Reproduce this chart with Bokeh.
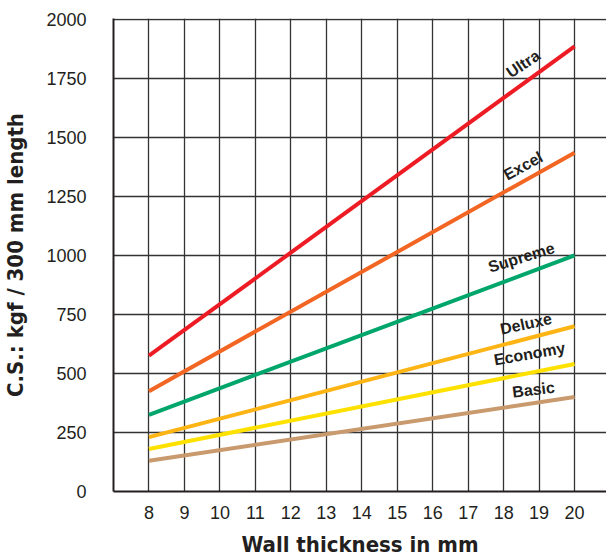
from bokeh.plotting import figure
from bokeh.models import Range1d, FixedTicker, ColumnDataSource
from bokeh.core.properties import value
from bokeh.embed import file_html
from bokeh.resources import INLINE
import math

# Data
wall_thickness = [8, 20]
series_names = ["Ultra", "Excel", "Supreme", "Deluxe", "Economy", "Basic"]
ultra = [575, 1885]
excel = [425, 1435]
supreme = [325, 1000]
deluxe = [230, 700]
economy = [180, 540]
basic = [130, 400]
series_values = [ultra, excel, supreme, deluxe, economy, basic]
x_ticks = list(range(8, 21))
y_ticks = [0, 250, 500, 750, 1000, 1250, 1500, 1750, 2000]

# Styles
colors = ["#ED1C24", "#F26522", "#00A66B", "#FDB515", "#FFE100", "#C99A6E"]
label_x = [18.55, 18.55, 18.5, 18.63, 18.73, 18.84]
label_y = [1811, 1379, 991, 710, 583, 431]
label_angle_deg = [34, 29, 17, 12, 10, 7]
title_font = "DejaVu Sans Condensed, Liberation Sans, sans-serif"

p = figure(width=606, height=560, output_backend="svg", toolbar_location=None,
           x_range=Range1d(7, 20.9), y_range=Range1d(0, 2003),
           min_border_left=112, min_border_right=0, min_border_top=18, min_border_bottom=69)
p.outline_line_color = None
p.background_fill_color = "white"

for vals, c in zip(series_values, colors):
    p.line(wall_thickness, vals, line_color=c, line_width=4)

src = ColumnDataSource(dict(x=label_x, y=label_y, t=series_names,
                            a=[math.radians(d) for d in label_angle_deg]))
p.text(x="x", y="y", text="t", angle="a", source=src, text_align="center",
       text_baseline="middle", text_font=value("Liberation Sans"),
       text_font_style="bold", text_font_size="16px", text_color="#231F20")

p.xaxis.ticker = FixedTicker(ticks=x_ticks)
p.yaxis.ticker = FixedTicker(ticks=y_ticks)
p.xgrid.ticker = FixedTicker(ticks=x_ticks)
p.ygrid.ticker = FixedTicker(ticks=y_ticks[1:])
for g in (p.xgrid, p.ygrid):
    g.grid_line_color = "#333333"
    g.grid_line_width = 1.3

for ax in (p.xaxis, p.yaxis):
    ax.axis_line_color = "#231F20"
    ax.axis_line_width = 2
    ax.major_tick_line_color = None
    ax.minor_tick_line_color = None
    ax.major_label_text_font = "Liberation Sans"
    ax.major_label_text_font_size = "18px"
    ax.major_label_text_color = "#231F20"
    ax.axis_label_text_font = title_font
    ax.axis_label_text_font_style = "bold"
    ax.axis_label_text_font_size = "22px"
    ax.axis_label_text_color = "#231F20"

p.xaxis.axis_label = "Wall thickness in mm"
p.yaxis.axis_label = "C.S.: kgf / 300 mm length"
p.yaxis.major_label_standoff = 21
p.xaxis.major_label_standoff = 8
p.yaxis.axis_label_standoff = 15
p.xaxis.axis_label_standoff = 10

open("out.html", "w").write(file_html(p, INLINE))
